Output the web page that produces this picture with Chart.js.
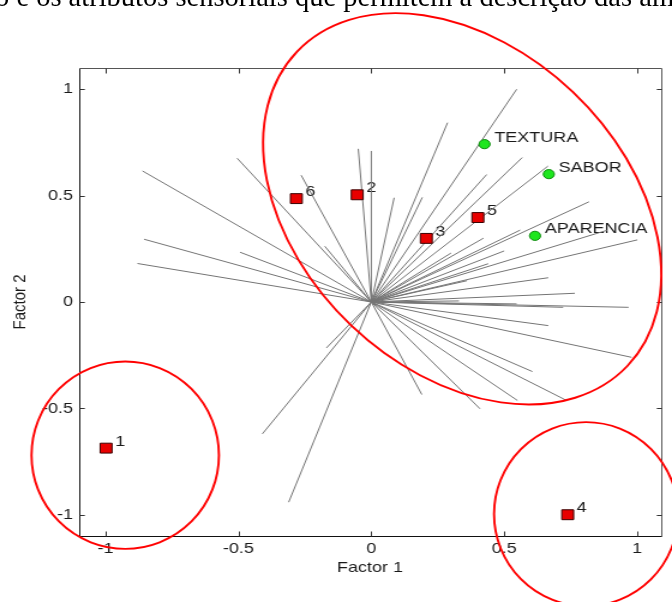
<!DOCTYPE html>
<html>
<head>
<meta charset="utf-8">
<script src="https://cdn.jsdelivr.net/npm/chart.js@4.4.0/dist/chart.umd.min.js"></script>
<style>
  html, body { margin: 0; padding: 0; background: #fff; overflow: hidden; }
  #wrap { position: relative; width: 672px; height: 602px; overflow: hidden; }
  #c { position: absolute; left: 0; top: 0; width: 672px; height: 602px; }
  #doc { position: absolute; left: -5px; top: -17px; font-family: "Liberation Serif", "Times New Roman", serif;
         font-size: 28.5px; line-height: 28.5px; white-space: nowrap; color: #000; }
</style>
</head>
<body>
<div id="wrap">
  <canvas id="c" width="560" height="602" style="width:672px;height:602px"></canvas>
  <div id="doc">o e os atributos sensoriais que permitem a descrição das am</div>
</div>
<script>
// ---------- data ----------
const xTickValues = [-1, -0.5, 0, 0.5, 1];
const xTickLabels = ['-1', '-0.5', '0', '0.5', '1'];
const yTickValues = [-1, -0.5, 0, 0.5, 1];
const yTickLabels = ['-1', '-0.5', '0', '0.5', '1'];

// loading vectors (consumer / attribute directions), drawn from origin
const loadingX = [-0.861, -0.505, -0.264, -0.855, -0.494, -0.880, -0.175, -0.049, 0.000,
                  0.287, 0.547, 0.568, 0.434, 0.086, 0.192, 0.665, 0.819, 0.887, 1.001,
                  0.560, 0.422, 0.666, 0.766, 0.968, 0.547, 0.722, 0.666, 0.979, 0.606,
                  0.735, 0.550, 0.409, 0.190, -0.410, -0.311, -0.169,
                  0.300, 0.440, 0.360, 0.500, 0.330];
const loadingY = [0.616, 0.676, 0.596, 0.295, 0.234, 0.181, 0.262, 0.720, 0.710,
                  0.843, 1.000, 0.679, 0.599, 0.490, 0.492, 0.639, 0.471, 0.337, 0.292,
                  0.338, 0.300, 0.114, 0.041, -0.025, -0.009, -0.025, -0.111, -0.260, -0.327,
                  -0.463, -0.463, -0.502, -0.435, -0.620, -0.941, -0.216,
                  0.230, 0.180, 0.100, 0.240, 0.005];

const sampleLabels = ['1', '2', '3', '4', '5', '6'];
const sampleX = [-0.998, -0.053, 0.207, 0.739, 0.401, -0.282];
const sampleY = [-0.687, 0.504, 0.299, -1.000, 0.397, 0.486];

const attrLabels = ['TEXTURA', 'SABOR', 'APARENCIA'];
const attrX = [0.426, 0.668, 0.616];
const attrY = [0.742, 0.601, 0.311];

// ---------- styling ----------
const STRETCH = 672 / 560;           // the chart image is stretched horizontally
const FONT = '"Liberation Sans", Arial, sans-serif';
const TXT = '#1a1a1a';

const datasets = [];
datasets.push({
  label: 'amostras',
  data: sampleX.map((x, i) => ({ x: x, y: sampleY[i] })),
  pointStyle: 'rect', pointRadius: 7, pointHoverRadius: 7,
  backgroundColor: '#e80000', borderColor: '#3a0000', borderWidth: 1,
  showLine: false, order: 0
});
datasets.push({
  label: 'atributos',
  data: attrX.map((x, i) => ({ x: x, y: attrY[i] })),
  pointStyle: 'circle', pointRadius: 4.6, pointHoverRadius: 4.6,
  backgroundColor: '#1ee61e', borderColor: '#0b8a0b', borderWidth: 1,
  showLine: false, order: 0
});
loadingX.forEach((x, i) => {
  datasets.push({
    label: 'v' + i,
    data: [{ x: 0, y: 0 }, { x: x, y: loadingY[i] }],
    showLine: true, borderColor: '#747474', borderWidth: 1,
    pointRadius: 0, pointHoverRadius: 0, fill: false, order: 1
  });
});

// frame + inward tick marks
const framePlugin = {
  id: 'frame',
  afterDatasetsDraw(chart) {
    const { ctx, chartArea: a, scales: { x, y } } = chart;
    ctx.save();
    ctx.lineWidth = 1;
    const L = Math.round(a.left) + 0.5, R = Math.round(a.right) + 0.5;
    const T = Math.round(a.top) + 0.5, B = Math.round(a.bottom) + 0.5;
    ctx.strokeStyle = '#555';
    ctx.beginPath(); ctx.moveTo(L, T); ctx.lineTo(R, T); ctx.lineTo(R, B); ctx.stroke();
    ctx.strokeStyle = '#111';
    ctx.beginPath(); ctx.moveTo(L, T); ctx.lineTo(L, B); ctx.lineTo(R, B); ctx.stroke();
    ctx.strokeStyle = '#333';
    const tl = 5;
    xTickValues.forEach(v => {
      const px = Math.round(x.getPixelForValue(v)) + 0.5;
      ctx.beginPath(); ctx.moveTo(px, T); ctx.lineTo(px, T + tl); ctx.stroke();
      ctx.beginPath(); ctx.moveTo(px, B); ctx.lineTo(px, B - tl); ctx.stroke();
    });
    yTickValues.forEach(v => {
      const py = Math.round(y.getPixelForValue(v)) + 0.5;
      ctx.beginPath(); ctx.moveTo(L, py); ctx.lineTo(L + tl / STRETCH, py); ctx.stroke();
      ctx.beginPath(); ctx.moveTo(R, py); ctx.lineTo(R - tl / STRETCH, py); ctx.stroke();
    });
    ctx.restore();
  }
};

// point labels (drawn under the vectors, as in the original)
const labelPlugin = {
  id: 'pointLabels',
  beforeDatasetsDraw(chart) {
    const { ctx, scales: { x, y } } = chart;
    ctx.save();
    ctx.font = '15px ' + FONT;
    ctx.fillStyle = TXT;
    ctx.textAlign = 'left';
    ctx.textBaseline = 'alphabetic';
    sampleLabels.forEach((t, i) => {
      ctx.fillText(t, x.getPixelForValue(sampleX[i]) + 7.5, y.getPixelForValue(sampleY[i]) - 2.5);
    });
    attrLabels.forEach((t, i) => {
      ctx.fillText(t, x.getPixelForValue(attrX[i]) + 8.2, y.getPixelForValue(attrY[i]) - 2.5);
    });
    ctx.restore();
  }
};

// hand-drawn red group ellipses (centre in data units, radii in screen px)
const ellipsePlugin = {
  id: 'groups',
  afterDraw(chart) {
    const groups = [
      { cx: 0.342, cy: 0.438, rx: 228, ry: 161, angle: 43.5 },
      { cx: -0.926, cy: -0.720, rx: 93.7, ry: 93.7, angle: 0 },
      { cx: 0.808, cy: -0.997, rx: 92, ry: 92, angle: 0 }
    ];
    const { ctx, scales: { x, y } } = chart;
    ctx.save();
    ctx.strokeStyle = '#ff0000';
    ctx.lineWidth = 1.9;
    groups.forEach(g => {
      ctx.save();
      ctx.translate(x.getPixelForValue(g.cx), y.getPixelForValue(g.cy));
      ctx.scale(1 / STRETCH, 1);
      ctx.rotate(g.angle * Math.PI / 180);
      ctx.beginPath();
      ctx.ellipse(0, 0, g.rx, g.ry, 0, 0, Math.PI * 2);
      ctx.restore();
      ctx.stroke();
    });
    ctx.restore();
  }
};

new Chart(document.getElementById('c'), {
  type: 'scatter',
  data: { datasets: datasets },
  options: {
    responsive: false,
    animation: false,
    devicePixelRatio: 1,
    events: [],
    layout: { padding: { top: 68, right: 9.2, left: 0, bottom: 0 } },
    plugins: { legend: { display: false }, tooltip: { enabled: false }, title: { display: false } },
    scales: {
      x: {
        type: 'linear', position: 'bottom', min: -1.1, max: 1.09,
        afterBuildTicks: s => { s.ticks = xTickValues.map(v => ({ value: v })); },
        afterFit: s => { s.height = 66; },
        ticks: {
          callback: (v, i) => xTickLabels[i], autoSkip: false, maxRotation: 0,
          includeBounds: false, padding: 4, color: TXT, font: { family: FONT, size: 15 }
        },
        grid: { display: false, drawTicks: false },
        border: { display: false },
        title: { display: true, text: 'Factor 1', color: TXT, font: { family: FONT, size: 15 },
                 padding: { top: 0, bottom: 25 } }
      },
      y: {
        type: 'linear', position: 'left', min: -1.1, max: 1.1,
        afterBuildTicks: s => { s.ticks = yTickValues.map(v => ({ value: v })); },
        afterFit: s => { s.width = 65.8; },
        ticks: {
          callback: (v, i) => yTickLabels[i], autoSkip: false,
          includeBounds: false, padding: 5, color: TXT, font: { family: FONT, size: 15 }
        },
        grid: { display: false, drawTicks: false },
        border: { display: false },
        title: { display: true, text: 'Factor 2', color: TXT, font: { family: FONT, size: 15 },
                 padding: { top: 7.7, bottom: 0 } }
      }
    }
  },
  plugins: [labelPlugin, framePlugin, ellipsePlugin]
});
</script>
</body>
</html>
